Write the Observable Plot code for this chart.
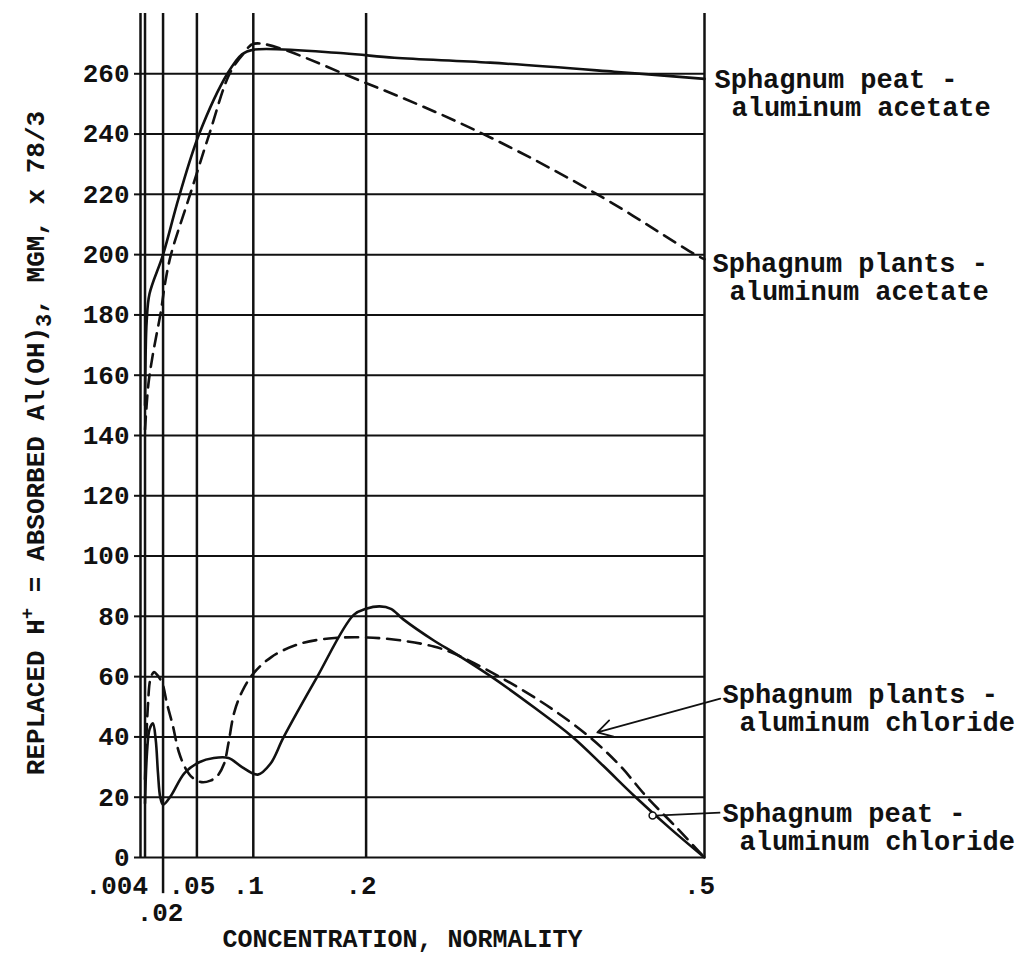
<!DOCTYPE html>
<html><head><meta charset="utf-8">
<script src="https://cdn.jsdelivr.net/npm/d3@7"></script>
<script src="https://cdn.jsdelivr.net/npm/@observablehq/plot@0.6"></script>
<style>html,body{margin:0;padding:0;background:#fff;} svg{display:block}</style>
</head><body><div id="chart"></div>
<script>
const FONT = "'Liberation Mono', 'DejaVu Sans Mono', 'Courier New', monospace";
const INK = "#111";

// Sphagnum peat - aluminum acetate (solid)
const peatAcetateX = [0.004, 0.0045, 0.0055, 0.008, 0.02, 0.034, 0.052, 0.077, 0.09, 0.1, 0.18, 0.225, 0.31, 0.42, 0.5];
const peatAcetateY = [150, 166, 178, 187, 200, 219, 240, 260, 266.5, 268, 266.8, 265.3, 263.7, 260.7, 258.3];

// Sphagnum plants - aluminum acetate (dashed)
const plantsAcetateX = [0.004, 0.007, 0.011, 0.018, 0.022, 0.027, 0.044, 0.061, 0.079, 0.092, 0.101, 0.202, 0.304, 0.405, 0.492, 0.5];
const plantsAcetateY = [142, 157, 167, 181, 191, 200, 220, 240, 260, 267, 270, 256.6, 240, 220, 200, 198.5];

// Sphagnum peat - aluminum chloride (solid)
const peatChlorideX = [0.004, 0.0058, 0.008, 0.011, 0.0135, 0.0155, 0.0175, 0.02, 0.027, 0.039, 0.052, 0.065, 0.078, 0.09, 0.104, 0.115, 0.127, 0.156, 0.189, 0.2, 0.212, 0.222, 0.233, 0.26, 0.28, 0.311, 0.35, 0.383, 0.41, 0.439, 0.47, 0.5];
const peatChlorideY = [18, 35, 42.5, 44.5, 39, 28, 20, 17.5, 20.5, 28, 31.6, 33, 33, 30, 27.5, 31, 40, 59.5, 80.5, 82.5, 83.3, 82.5, 79, 72, 67.5, 60, 49.5, 40, 30.5, 20, 9.5, 0];

// Sphagnum plants - aluminum chloride (dashed)
const plantsChlorideX = [0.004, 0.0065, 0.009, 0.012, 0.015, 0.0193, 0.0235, 0.0285, 0.034, 0.04, 0.046, 0.054, 0.062, 0.068, 0.074, 0.078, 0.083, 0.09, 0.1, 0.116, 0.142, 0.172, 0.201, 0.231, 0.26, 0.277, 0.318, 0.36, 0.398, 0.425, 0.449, 0.475, 0.5];
const plantsChlorideY = [26, 50, 59.5, 61.5, 60.5, 57.8, 51, 44, 35, 29.5, 26.5, 25, 25.5, 27, 31, 38, 48, 55, 61, 66.5, 71, 72.8, 73, 72, 70, 67.8, 60, 50.5, 40, 30.5, 20, 10, 0];

const yTicks = [0, 20, 40, 60, 80, 100, 120, 140, 160, 180, 200, 220, 240, 260];
const xTickValues = [0.004, 0.02, 0.05, 0.1, 0.2, 0.5];
const xTickLabels = [".004", ".02", ".05", ".1", ".2", ".5"];

const peatAcetateLabel = ["Sphagnum peat -", "aluminum acetate"];
const plantsAcetateLabel = ["Sphagnum plants -", "aluminum acetate"];
const plantsChlorideLabel = ["Sphagnum plants -", "aluminum chloride"];
const peatChlorideLabel = ["Sphagnum peat -", "aluminum chloride"];
const xTitle = "CONCENTRATION, NORMALITY";

const pts = (xs, ys) => xs.map((x, i) => ({x, y: ys[i]}));
const peatAcetate = pts(peatAcetateX, peatAcetateY);
const plantsAcetate = pts(plantsAcetateX, plantsAcetateY);
const peatChloride = pts(peatChlorideX, peatChlorideY);
const plantsChloride = pts(plantsChlorideX, plantsChlorideY);
const xTicks = xTickValues.map((v, i) => ({v, label: xTickLabels[i]}));
const last = a => a[a.length - 1];

const lineOpts = {x: "x", y: "y", curve: "catmull-rom", stroke: INK, strokeWidth: 2.6};
const dashOpts = {...lineOpts, strokeDasharray: "13,8"};
const labelOpts = {textAnchor: "start", fontSize: 27, fill: INK, lineAnchor: "middle"};

const chart = Plot.plot({
  width: 1035, height: 957,
  marginLeft: 140, marginRight: 331, marginTop: 13, marginBottom: 100,
  x: {domain: [0, 0.5], axis: null},
  y: {domain: [0, 280], axis: null},
  style: {fontFamily: FONT, fontWeight: "bold", color: INK, background: "white"},
  marks: [
    Plot.ruleY(yTicks, {x1: 0, x2: 0.5, stroke: INK, strokeWidth: 2}),
    Plot.ruleX([0, ...xTickValues], {y1: 0, y2: 280, stroke: INK, strokeWidth: 2.5}),
    Plot.ruleX(xTicks.filter(d => d.label === ".02"), {x: "v", y1: 0, y2: -12, stroke: INK, strokeWidth: 2.5}),
    Plot.axisY(yTicks, {tickSize: 6, tickPadding: 5, fontSize: 26, label: null, strokeWidth: 2}),
    // x tick labels
    Plot.text(xTicks.filter(d => d.label === ".004"), {x: "v", y: 0, text: "label", textAnchor: "end", dx: 3, dy: 28, fontSize: 26}),
    Plot.text(xTicks.filter(d => d.label === ".02"), {x: "v", y: 0, text: "label", dx: -3, dy: 55, fontSize: 26}),
    Plot.text(xTicks.filter(d => [".05", ".1", ".2", ".5"].includes(d.label)), {x: "v", y: 0, text: "label", dx: -5, dy: 28, fontSize: 26}),
    Plot.text([xTitle], {frameAnchor: "bottom", dx: -20, dy: 89, fontSize: 25}),
    // curves
    Plot.line(peatAcetate, lineOpts),
    Plot.line(plantsAcetate, dashOpts),
    Plot.line(peatChloride, lineOpts),
    Plot.line(plantsChloride, dashOpts),
    // curve labels
    Plot.text([peatAcetateLabel[0]], {...labelOpts, x: 0.5, y: last(peatAcetate).y, dx: 10}),
    Plot.text([peatAcetateLabel[1]], {...labelOpts, x: 0.5, y: last(peatAcetate).y, dx: 27, dy: 28}),
    Plot.text([plantsAcetateLabel[0]], {...labelOpts, x: 0.5, y: last(plantsAcetate).y, dx: 8, dy: 4}),
    Plot.text([plantsAcetateLabel[1]], {...labelOpts, x: 0.5, y: last(plantsAcetate).y, dx: 25, dy: 32}),
    Plot.text([plantsChlorideLabel[0]], {...labelOpts, x: 0.5, y: 54, dx: 18}),
    Plot.text([plantsChlorideLabel[1]], {...labelOpts, x: 0.5, y: 54, dx: 35, dy: 28}),
    Plot.text([peatChlorideLabel[0]], {...labelOpts, x: 0.5, y: 14.5, dx: 18}),
    Plot.text([peatChlorideLabel[1]], {...labelOpts, x: 0.5, y: 14.5, dx: 35, dy: 28}),
    // pointers
    Plot.arrow([plantsChlorideLabel], {x1: 0.514, y1: 52.7, x2: 0.405, y2: 41.5, stroke: INK, strokeWidth: 1.8, headLength: 14, bend: 0}),
    Plot.link([peatChlorideLabel], {x1: 0.514, y1: 14.9, x2: 0.456, y2: 13.9, stroke: INK, strokeWidth: 1.8}),
    Plot.dot([peatChlorideLabel], {x: 0.454, y: 13.9, r: 3.5, stroke: INK, strokeWidth: 1.5, fill: "white"})
  ]
});

document.getElementById("chart").appendChild(chart);

// Y axis title with superscript and subscript
const svg = d3.select(chart);
const t = svg.append("text")
  .attr("transform", "translate(44,443) rotate(-90)")
  .attr("text-anchor", "middle")
  .attr("font-size", 26)
  .attr("font-family", FONT)
  .attr("font-weight", "bold")
  .attr("fill", INK);
t.append("tspan").text("REPLACED H");
t.append("tspan").attr("dy", -11).attr("font-size", 19).text("+");
t.append("tspan").attr("dy", 11).text(" = ABSORBED Al(OH)");
t.append("tspan").attr("dy", 7).attr("font-size", 22).text("3");
t.append("tspan").attr("dy", -7).text(", MGM, x 78/3");
</script>
</body></html>
